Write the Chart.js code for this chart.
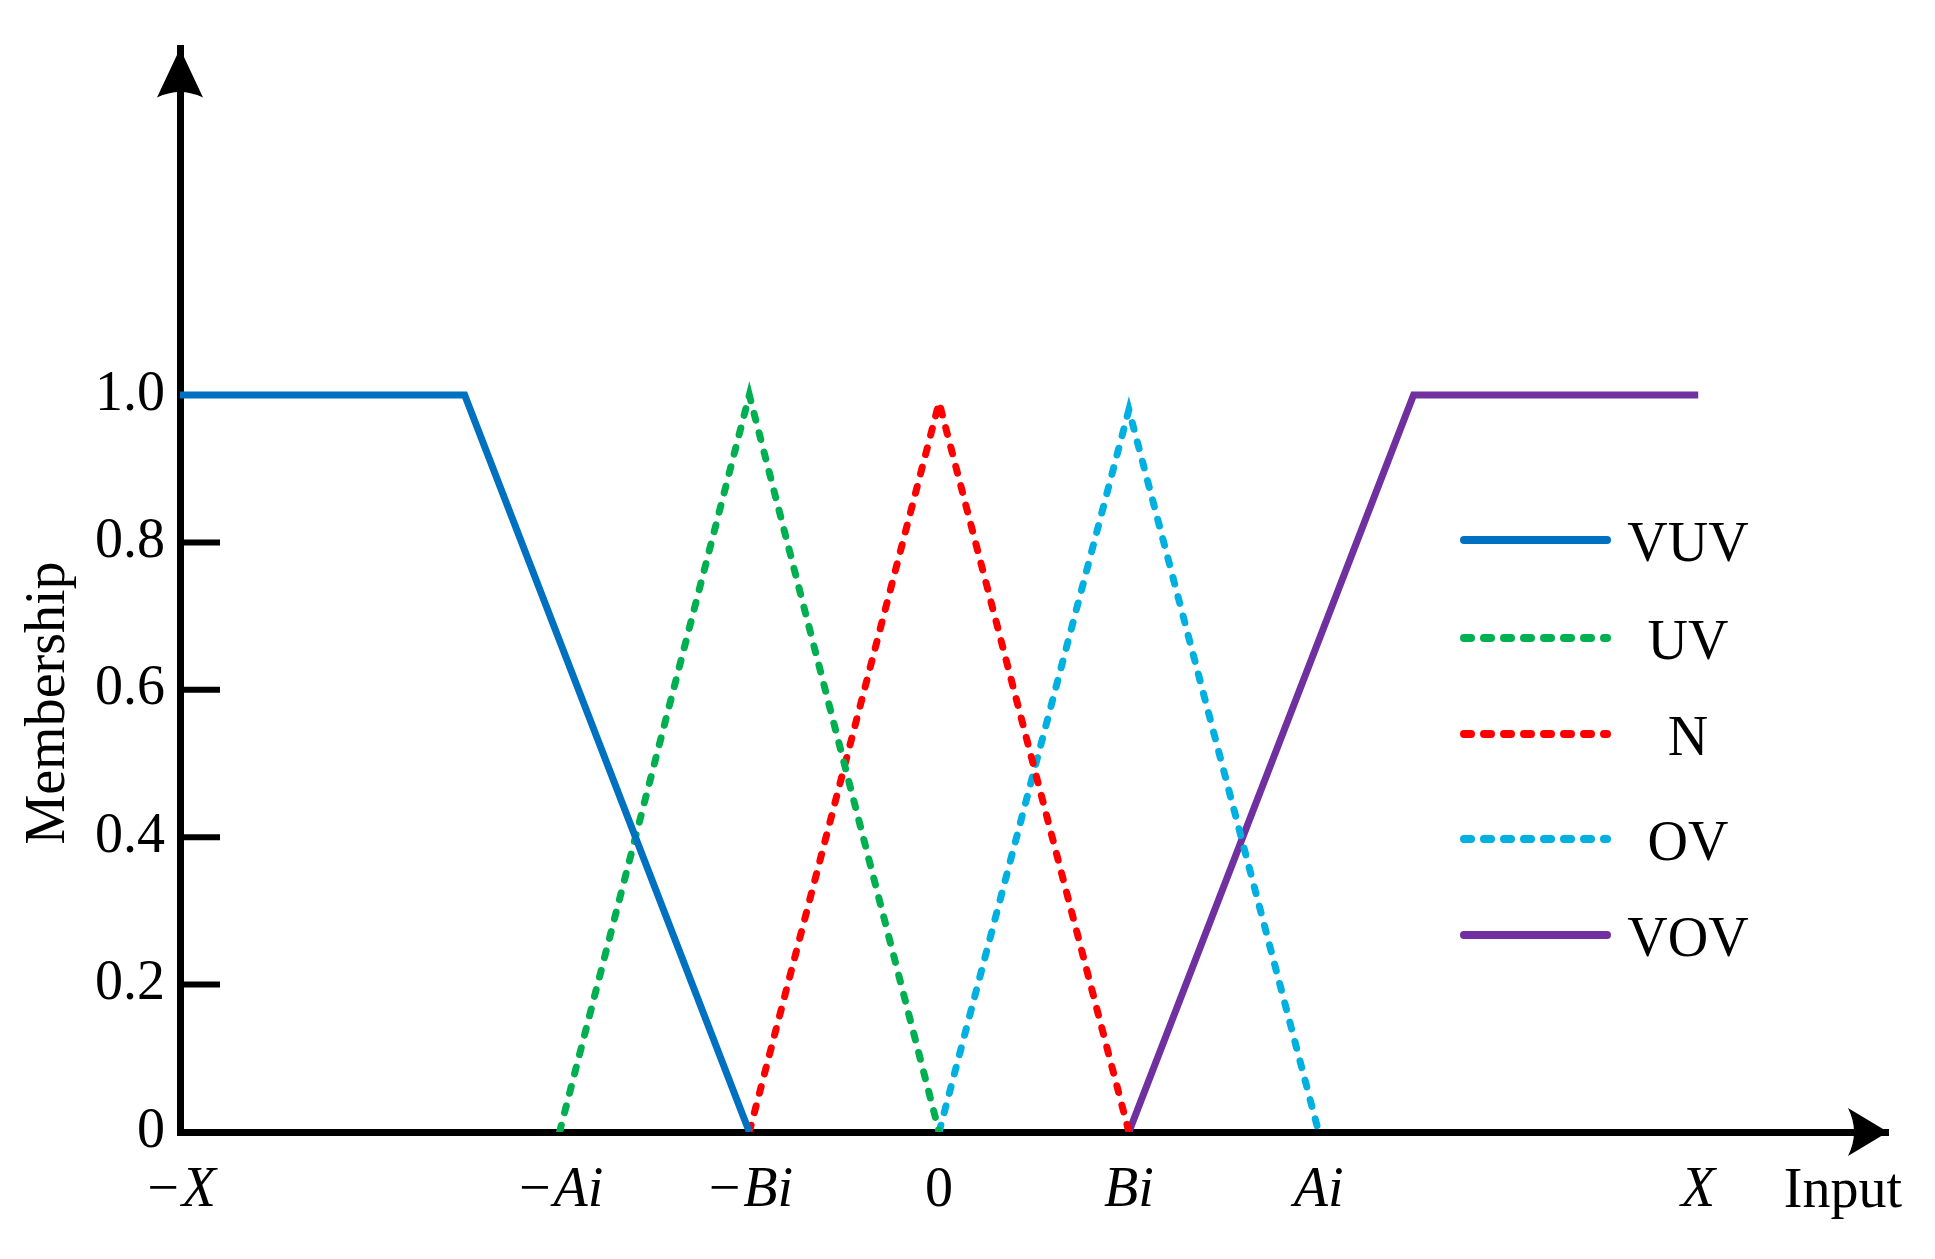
<!DOCTYPE html>
<html>
<head>
<meta charset="utf-8">
<script src="https://cdn.jsdelivr.net/npm/chart.js@4"></script>
<style>
  html, body { margin: 0; padding: 0; background: #fff; }
  #wrap { width: 1935px; height: 1259px; }
</style>
</head>
<body>
<div id="wrap"><canvas id="chart"></canvas></div>
<script>
// ================= DATA =================
const xTickValues = [-4, -2, -1, 0, 1, 2, 4];
const xTickLabels = ["−X", "−Ai", "−Bi", "0", "Bi", "Ai", "X"];
const yTickValues = [0, 0.2, 0.4, 0.6, 0.8, 1.0];
const yTickLabels = ["0", "0.2", "0.4", "0.6", "0.8", "1.0"];

const seriesNames = ["VUV", "UV", "N", "OV", "VOV"];
const vuvX = [-4, -2.5, -1];
const vuvY = [1, 1, 0];
const uvX = [-2, -1, 0];
const uvY = [0, 1, 0];
const nX = [-1, 0, 1];
const nY = [0, 0.99, 0];
const ovX = [0, 1, 2];
const ovY = [0, 0.98, 0];
const vovX = [1, 2.5, 4];
const vovY = [0, 1, 1];

const FONT = "'Liberation Serif', 'Times New Roman', serif";

function pts(xs, ys) {
  return xs.map((x, i) => ({ x: x, y: ys[i] }));
}

function lineSet(label, xs, ys, color, dashed) {
  return {
    label: label,
    data: pts(xs, ys),
    borderColor: color,
    borderWidth: 7,
    borderDash: dashed ? [7, 13] : [],
    borderCapStyle: dashed ? "round" : "butt",
    pointRadius: 0,
    fill: false,
    tension: 0
  };
}

// ================= AXIS DECORATION + LEGEND =================
const decor = {
  id: "decor",
  beforeDatasetsDraw(chart) {
    const ctx = chart.ctx;
    const x = chart.scales.x, y = chart.scales.y;
    const x0 = x.getPixelForValue(x.min);
    ctx.save();
    ctx.strokeStyle = "#000";
    ctx.lineWidth = 6;
    yTickValues.forEach(v => {
      if (v === 0) return;
      const py = y.getPixelForValue(v);
      ctx.beginPath();
      ctx.moveTo(x0, py);
      ctx.lineTo(x0 + 40, py);
      ctx.stroke();
    });
    ctx.restore();
  },
  afterDraw(chart) {
    const ctx = chart.ctx;
    const x = chart.scales.x, y = chart.scales.y;
    const ax = x.getPixelForValue(x.min);
    const ay = y.getPixelForValue(0);
    const top = y.getPixelForValue(y.max);
    const right = x.getPixelForValue(x.max);

    ctx.save();
    ctx.fillStyle = "#000";
    // y arrow
    ctx.beginPath();
    ctx.moveTo(ax, top);
    ctx.lineTo(ax + 23, top + 49);
    ctx.quadraticCurveTo(ax, top + 38, ax - 23, top + 49);
    ctx.closePath();
    ctx.fill();
    // x arrow
    ctx.beginPath();
    ctx.moveTo(right, ay);
    ctx.lineTo(right - 40, ay - 24);
    ctx.quadraticCurveTo(right - 28, ay, right - 40, ay + 24);
    ctx.closePath();
    ctx.fill();

    // axis titles
    ctx.font = "56px " + FONT;
    ctx.textAlign = "right";
    ctx.textBaseline = "alphabetic";
    ctx.fillText("Input", 1902, 1207);

    ctx.save();
    ctx.translate(64, 703);
    ctx.rotate(-Math.PI / 2);
    ctx.textAlign = "center";
    ctx.fillText("Membership", 0, 0);
    ctx.restore();

    // legend
    const rows = [540, 638, 734, 839, 935];
    chart.data.datasets.forEach((ds, i) => {
      const ry = rows[i];
      ctx.save();
      ctx.strokeStyle = ds.borderColor;
      ctx.lineWidth = 8;
      ctx.lineCap = "round";
      ctx.setLineDash(ds.borderDash);
      ctx.beginPath();
      ctx.moveTo(1464, ry);
      ctx.lineTo(1607, ry);
      ctx.stroke();
      ctx.restore();
      ctx.textAlign = "center";
      ctx.textBaseline = "middle";
      ctx.fillText(ds.label, 1688, ry + 6);
    });
    ctx.restore();
  }
};

// ================= CHART =================
new Chart(document.getElementById("chart"), {
  type: "line",
  data: {
    datasets: [
      lineSet(seriesNames[0], vuvX, vuvY, "#0070C0", false),
      lineSet(seriesNames[1], uvX, uvY, "#00B050", true),
      lineSet(seriesNames[2], nX, nY, "#FF0000", true),
      lineSet(seriesNames[3], ovX, ovY, "#00B0E0", true),
      lineSet(seriesNames[4], vovX, vovY, "#7030A0", false)
    ]
  },
  options: {
    animation: false,
    responsive: true,
    maintainAspectRatio: false,
    layout: { padding: { top: 46, right: 47, left: 0, bottom: 0 } },
    plugins: { legend: { display: false }, tooltip: { enabled: false } },
    scales: {
      x: {
        type: "linear",
        min: -4,
        max: 5,
        afterBuildTicks: s => { s.ticks = xTickValues.map(v => ({ value: v })); },
        afterFit: s => { s.height = 127; },
        grid: { display: false, drawTicks: false },
        border: { display: true, color: "#000", width: 7 },
        ticks: {
          autoSkip: false,
          maxRotation: 0,
          padding: 26,
          color: "#000",
          font: c => ({
            family: FONT,
            size: 56,
            style: (c.tick && c.tick.value === 0) ? "normal" : "italic"
          }),
          callback: v => xTickLabels[xTickValues.indexOf(v)]
        }
      },
      y: {
        min: 0,
        max: 1.47,
        afterBuildTicks: s => { s.ticks = yTickValues.map(v => ({ value: v })); },
        afterFit: s => { s.width = 180; },
        grid: { display: false, drawTicks: false },
        border: { display: true, color: "#000", width: 7 },
        ticks: {
          autoSkip: false,
          padding: 15,
          color: "#000",
          font: { family: FONT, size: 56 },
          callback: v => yTickLabels[yTickValues.indexOf(v)]
        }
      }
    }
  },
  plugins: [decor]
});
</script>
</body>
</html>
